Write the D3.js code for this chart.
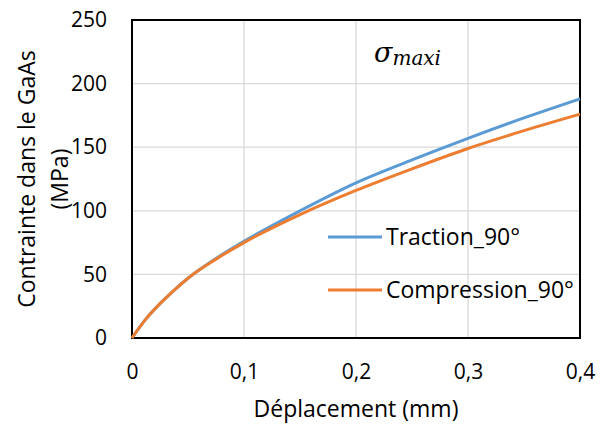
<!DOCTYPE html>
<html><head><meta charset="utf-8">
<script src="https://cdn.jsdelivr.net/npm/d3@7"></script>
<style>body{margin:0;background:#fff}</style>
</head><body>
<svg id="c" width="607" height="426"></svg>
<script>
const xTicks = [0, 0.1, 0.2, 0.3, 0.4];
const yTicks = [0, 50, 100, 150, 200, 250];
const displacement = [0, 0.0125, 0.025, 0.0375, 0.05, 0.075, 0.1, 0.15, 0.2, 0.25, 0.3, 0.35, 0.4];
const traction =     [0, 15, 27, 37.5, 47, 62.5, 76, 100, 122, 140, 157, 173, 188];
const compression =  [0, 15, 27, 37.5, 47, 62, 75, 97, 116, 133, 149, 163, 176];
const seriesNames = ["Traction_90°", "Compression_90°"];
const colors = ["#5B9BD5", "#ED7D31"];

const FONT = "'Open Sans', sans-serif";
const svg = d3.select("#c");
const L = 132, R = 580, T = 20, B = 338;
const x = d3.scaleLinear().domain([0, 0.4]).range([L, R]);
const y = d3.scaleLinear().domain([0, 250]).range([B, T]);
const fmt = d => d === 0 ? "0" : String(d).replace(".", ",");

// grid
svg.append("g").selectAll("line").data(yTicks.slice(1, -1)).join("line")
  .attr("x1", L).attr("x2", R).attr("y1", d => y(d)).attr("y2", d => y(d))
  .attr("stroke", "#D9D9D9").attr("stroke-width", 1.3);
svg.append("g").selectAll("line").data(xTicks.slice(1, -1)).join("line")
  .attr("y1", T).attr("y2", B).attr("x1", d => x(d)).attr("x2", d => x(d))
  .attr("stroke", "#D9D9D9").attr("stroke-width", 1.3);

// axes
const xa = svg.append("g").attr("transform", `translate(0,${B})`)
  .call(d3.axisBottom(x).tickValues(xTicks).tickFormat(fmt).tickSize(0).tickPadding(26));
const ya = svg.append("g").attr("transform", `translate(${L},0)`)
  .call(d3.axisLeft(y).tickValues(yTicks).tickSize(0).tickPadding(25));
[xa, ya].forEach(a => {
  a.select(".domain").remove();
  a.selectAll("text").style("font-family", FONT).style("font-size", "21px").attr("fill", "#000");
});

// border
svg.append("rect").attr("x", L).attr("y", T).attr("width", R - L).attr("height", B - T)
  .attr("fill", "none").attr("stroke", "#000").attr("stroke-width", 2);

// lines
const data = [traction, compression];
const line = d3.line().x((d, i) => x(displacement[i])).y(d => y(d)).curve(d3.curveMonotoneX);
data.forEach((s, k) => {
  svg.append("path").datum(s).attr("d", line).attr("fill", "none")
    .attr("stroke", colors[k]).attr("stroke-width", 3);
});

// legend
seriesNames.forEach((n, k) => {
  const yy = k === 0 ? 237 : 290;
  svg.append("line").attr("x1", 328).attr("x2", 382).attr("y1", yy).attr("y2", yy)
    .attr("stroke", colors[k]).attr("stroke-width", 3);
  svg.append("text").attr("x", 386).attr("y", yy).attr("dy", "0.35em")
    .style("font-family", FONT).style("font-size", "23px").text(n);
});

// sigma label
const sg = svg.append("text").attr("x", 374).attr("y", 62)
  .style("font-family", "'DejaVu Serif', serif").style("font-style", "italic");
sg.append("tspan").style("font-size", "27px").text("σ");
sg.append("tspan").style("font-size", "20px").attr("dy", 3).text("maxi");

// axis titles
svg.append("text").attr("x", 356).attr("y", 409).attr("dy", "0.35em")
  .attr("text-anchor", "middle").style("font-family", FONT).style("font-size", "23px").text("Déplacement (mm)");
const yt = svg.append("text").attr("transform", "translate(27,179) rotate(-90)")
  .attr("text-anchor", "middle").style("font-family", FONT).style("font-size", "23px");
yt.append("tspan").attr("x", 0).attr("dy", "0.35em").text("Contrainte dans le GaAs");
yt.append("tspan").attr("x", 0).attr("dy", "1.42em").text("(MPa)");
</script>
</body></html>
